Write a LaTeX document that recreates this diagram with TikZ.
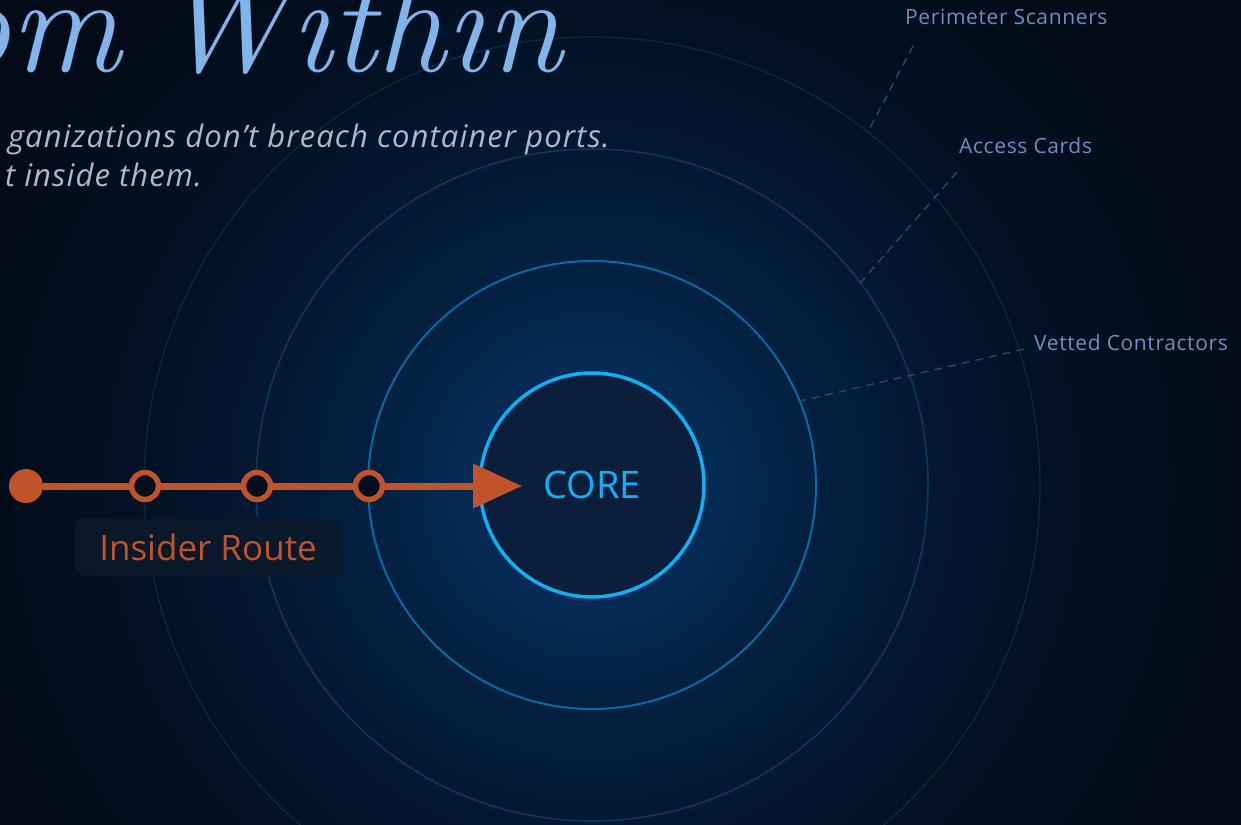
\documentclass[tikz,border=0pt]{standalone}
\usepackage{fontspec}
\newfontfamily\uifont{Open Sans}
\usetikzlibrary{arrows.meta,calc}
\definecolor{bg}{HTML}{020B16}
\definecolor{glowA}{HTML}{073666}
\definecolor{glowB}{HTML}{052C56}
\definecolor{glowC}{HTML}{04203F}
\definecolor{glowD}{HTML}{031831}
\definecolor{glowE}{HTML}{021225}
\definecolor{glowF}{HTML}{020D1C}
\definecolor{corefill}{HTML}{0B1F3C}
\definecolor{corecol}{HTML}{10B0F5}
\definecolor{ringB}{HTML}{0A6AA6}
\definecolor{ringC}{HTML}{0B3A5E}
\definecolor{ringD}{HTML}{0A2A46}
\definecolor{routecol}{HTML}{C1532A}
\definecolor{stopfill}{HTML}{040F1E}
\definecolor{boxfill}{HTML}{0A1A2B}
\definecolor{titlecol}{HTML}{80B4EA}
\definecolor{subcol}{HTML}{A6BAD4}
\definecolor{lblcol}{HTML}{6C90C2}
\definecolor{leadcol}{HTML}{23497A}
\pgfdeclareradialshading{glow}{\pgfpoint{0bp}{0bp}}{color(0bp)=(glowA); color(4bp)=(glowB); color(8bp)=(glowC); color(12bp)=(glowD); color(16bp)=(glowE); color(21bp)=(glowF); color(25bp)=(bg); color(50bp)=(bg)}
\tikzset{
  ringnode/.style={circle, inner sep=0pt, outer sep=0pt},
  coreNode/.style={ringnode, minimum size=224pt, draw=corecol, line width=3.5pt, fill=corefill,
    text=corecol, font=\uifont\fontsize{38}{38}\selectfont},
  startdot/.style={circle, fill=routecol, minimum size=34pt, inner sep=0pt, outer sep=0pt},
  stopnode/.style={circle, draw=routecol, line width=5.5pt, fill=stopfill, minimum size=27pt, inner sep=0pt, outer sep=0pt},
  routeline/.style={draw=routecol, line width=7pt},
  routelabel/.style={rounded corners=9pt, fill=boxfill, fill opacity=0.9, text opacity=1, minimum width=266pt, minimum height=57pt,
    inner sep=0pt, text=routecol, font=\uifont\fontsize{35}{35}\selectfont},
  lbl/.style={inner sep=0pt, text=lblcol, font=\uifont\fontsize{21}{21}\selectfont\addfontfeatures{LetterSpace=3}},
  leader/.style={draw=leadcol, line width=1.4pt, dash pattern=on 8pt off 6pt},
  titletext/.style={inner sep=0pt, text=titlecol, font=\fontsize{138}{138}\selectfont\itshape},
  subtext/.style={inner sep=0pt, text=subcol, font=\uifont\fontsize{31}{31}\selectfont\itshape\addfontfeatures{LetterSpace=3.5}},
}
\begin{document}
\begin{tikzpicture}[x=1pt,y=-1pt]
\useasboundingbox (0,0) rectangle (1241,824);
\fill[bg] (-10,-10) rectangle (1251,834);
\clip (0,0) rectangle (1241,824);
\shade[shading=glow] (592,485) circle (700pt);
\coordinate (c) at (592,485);
% rings
\node[ringnode, minimum size=896pt, draw=ringD, line width=1.2pt] (r4) at (c) {};
\node[ringnode, minimum size=672pt, draw=ringC, line width=1.5pt] (r3) at (c) {};
\node[ringnode, minimum size=448pt, draw=ringB, line width=2pt] (r2) at (c) {};
\node[coreNode] (core) at (c) {CORE};
% title
\node[titletext, anchor=base east] (title) at (563,72) {om\hspace{0.25em}Within};
\node[subtext, anchor=base east] (sub1) at (610,147) {ganizations don’t breach container ports.};
\node[subtext, anchor=base east] (sub2) at (202,186) {t inside them.};
% labels
\node[lbl, anchor=base west] (lp) at (905,25) {Perimeter Scanners};
\node[lbl, anchor=base west] (la) at (959,153) {Access Cards};
\node[lbl, anchor=base west] (lv) at (1034,350) {Vetted Contractors};
\coordinate (lpA) at (913,46);
\coordinate (laA) at (957,172);
\coordinate (lvA) at (1024,349);
\draw[leader] (lpA) -- (r4.52.6);
\draw[leader] (laA) -- (r3.37.4);
\draw[leader] (lvA) -- (r2.22.2);
% route
\node[startdot] (s0) at (26,486) {};
\node[stopnode] (n1) at (145,486) {};
\node[stopnode] (n2) at (257,486) {};
\node[stopnode] (n3) at (369,486) {};
\coordinate (tip) at (522,486);
\draw[routeline] (s0) -- (n1);
\draw[routeline] (n1) -- (n2);
\draw[routeline] (n2) -- (n3);
\draw[routeline, -{Triangle[length=49pt,width=43pt]}] (n3) -- (tip);
\node[routelabel] (rl) at (208,547) {Insider Route};
\end{tikzpicture}
\end{document}
